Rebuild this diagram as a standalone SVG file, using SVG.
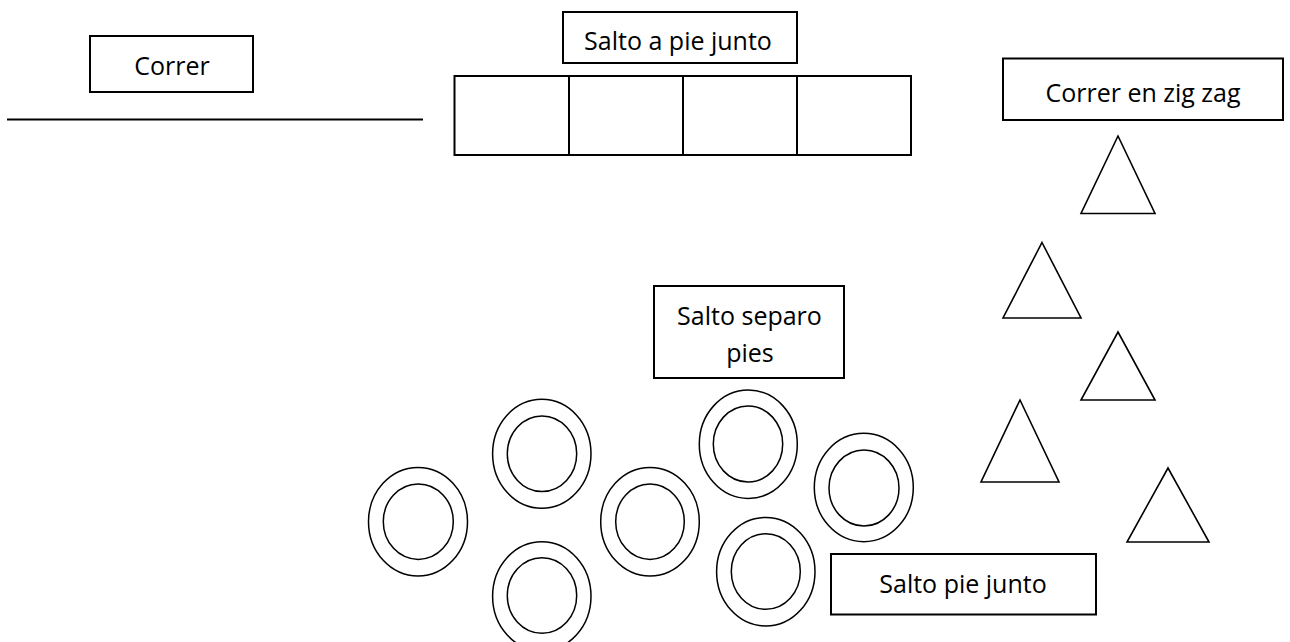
<svg xmlns="http://www.w3.org/2000/svg" width="1290" height="642" viewBox="0 0 1290 642">
<style>
.box{fill:#fff;stroke:#000;stroke-width:2}
.tri{fill:none;stroke:#000;stroke-width:1.6;stroke-linejoin:miter}
.ring{fill:none;stroke:#000;stroke-width:1.5}
.lbl{font-family:"Open Sans","Liberation Sans",sans-serif;font-size:25px;fill:#000;text-anchor:middle}
</style>
<rect width="1290" height="642" fill="#fff"/>
<g id="correr">
<rect class="box" x="90" y="36" width="163" height="56"/>
<text class="lbl" x="172" y="75">Correr</text>
</g>
<g id="linea">
<line x1="7" y1="119.5" x2="423" y2="119.5" stroke="#000" stroke-width="2"/>
</g>
<g id="salto-a-pie-junto">
<rect class="box" x="563" y="12" width="234" height="51"/>
<text class="lbl" x="678" y="50">Salto a pie junto</text>
</g>
<g id="casillas">
<rect class="box" x="454.5" y="76" width="456.5" height="79"/>
<line x1="569" y1="76" x2="569" y2="155" stroke="#000" stroke-width="2"/>
<line x1="683" y1="76" x2="683" y2="155" stroke="#000" stroke-width="2"/>
<line x1="797" y1="76" x2="797" y2="155" stroke="#000" stroke-width="2"/>
</g>
<g id="correr-zig-zag">
<rect class="box" x="1003" y="58.5" width="280" height="61.5"/>
<text class="lbl" x="1143" y="101.5">Correr en zig zag</text>
</g>
<g id="conos">
<polygon class="tri" points="1118,136 1155,213.5 1081,213.5"/>
<polygon class="tri" points="1042,242.5 1081,318 1003,318"/>
<polygon class="tri" points="1118,332 1155,400 1081,400"/>
<polygon class="tri" points="1020,400 1059,482 981,482"/>
<polygon class="tri" points="1168,468 1209,542 1127,542"/>
</g>
<g id="salto-separo-pies">
<rect class="box" x="654" y="286" width="190" height="92"/>
<text class="lbl" x="749.5" y="325">Salto separo</text>
<text class="lbl" x="750" y="362">pies</text>
</g>
<g id="aros">
<ellipse class="ring" cx="418" cy="521.7" rx="49.5" ry="54.3"/>
<ellipse class="ring" cx="418.3" cy="521.7" rx="35" ry="37.7"/>
<ellipse class="ring" cx="541.8" cy="453.8" rx="49.2" ry="54.5"/>
<ellipse class="ring" cx="542" cy="453.8" rx="34.7" ry="37.8"/>
<ellipse class="ring" cx="541.8" cy="596.2" rx="49.2" ry="54.5"/>
<ellipse class="ring" cx="542" cy="595.5" rx="34.7" ry="37.8"/>
<ellipse class="ring" cx="650" cy="521.7" rx="49.3" ry="54.3"/>
<ellipse class="ring" cx="650" cy="521.7" rx="34.3" ry="37.7"/>
<ellipse class="ring" cx="748.3" cy="444.2" rx="49" ry="54.2"/>
<ellipse class="ring" cx="748" cy="444" rx="34.7" ry="38"/>
<ellipse class="ring" cx="765.8" cy="571.7" rx="49.2" ry="54.3"/>
<ellipse class="ring" cx="765.8" cy="571.5" rx="34.5" ry="37.8"/>
<ellipse class="ring" cx="863.8" cy="487.5" rx="49.5" ry="54.2"/>
<ellipse class="ring" cx="864" cy="488" rx="35" ry="38"/>
</g>
<g id="salto-pie-junto">
<rect class="box" x="831" y="554" width="265" height="60.5"/>
<text class="lbl" x="963" y="592.5">Salto pie junto</text>
</g>
</svg>
